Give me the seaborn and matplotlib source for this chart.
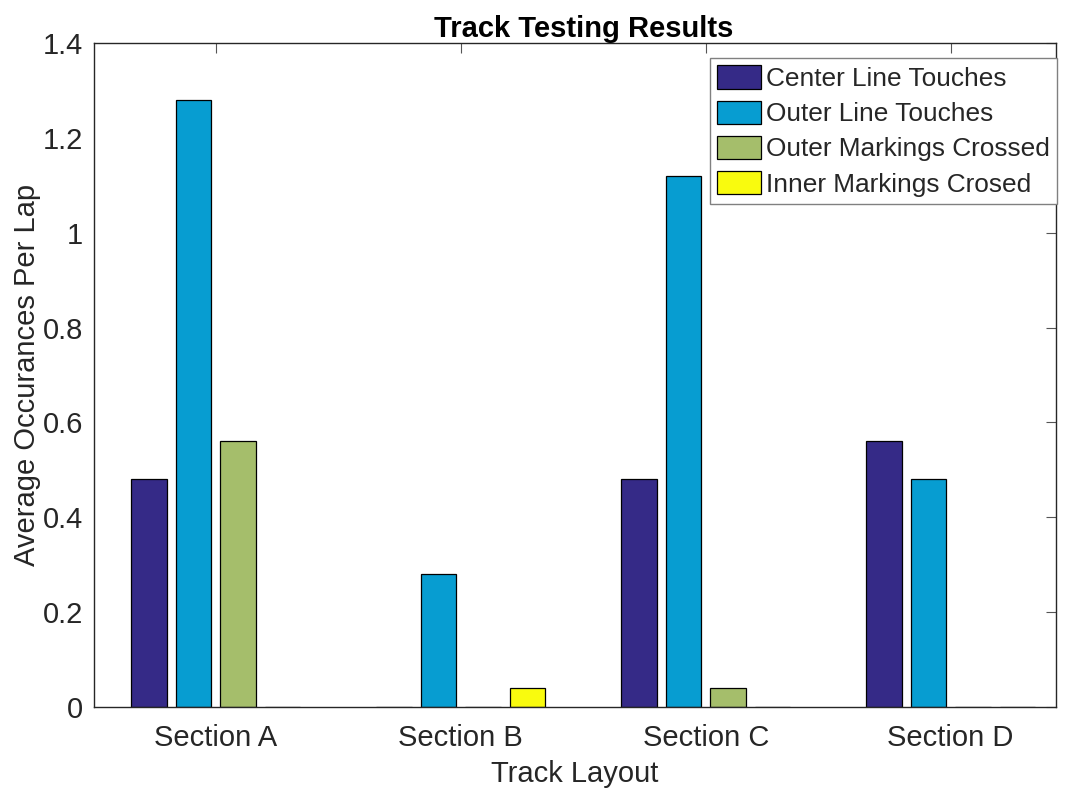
import matplotlib
matplotlib.use("Agg")
import matplotlib.pyplot as plt
import seaborn as sns
import pandas as pd

sections = ["Section A", "Section B", "Section C", "Section D"]
series_names = ["Center Line Touches", "Outer Line Touches",
                "Outer Markings Crossed", "Inner Markings Crosed"]
center_line = [0.48, 0.0, 0.48, 0.56]
outer_line = [1.28, 0.28, 1.12, 0.48]
outer_markings = [0.56, 0.0, 0.04, 0.0]
inner_markings = [0.0, 0.04, 0.0, 0.0]
colors = ["#352a87", "#079dd1", "#a5be6b", "#f9fb0e"]
yticks = [0, 0.2, 0.4, 0.6, 0.8, 1.0, 1.2, 1.4]
ytick_labels = ["0", "0.2", "0.4", "0.6", "0.8", "1", "1.2", "1.4"]

rows = []
for name, vals in zip(series_names, [center_line, outer_line, outer_markings, inner_markings]):
    for s, v in zip(sections, vals):
        rows.append({"Section": s, "Series": name, "Value": v})
df = pd.DataFrame(rows)

sns.set_style("white")
plt.rcParams["font.family"] = ["Liberation Sans", "DejaVu Sans"]

fig = plt.figure(figsize=(10.7, 7.92), dpi=100)
ax = fig.add_axes([94 / 1070, 1 - 707 / 792, (1056 - 94) / 1070, (707 - 43) / 792])

sns.barplot(data=df, x="Section", y="Value", hue="Series", order=sections,
            hue_order=series_names, palette=colors, width=0.727, gap=0.2,
            edgecolor="black", linewidth=0.9, saturation=1, errorbar=None, ax=ax)

ax.set_ylim(0, 1.4)
ax.set_xlim(-0.497, 3.43)
ax.set_yticks(yticks)
ax.set_yticklabels(ytick_labels)

tc = "#262626"
for sp in ax.spines.values():
    sp.set_color(tc)
    sp.set_linewidth(1.0)
    sp.set_visible(True)
ax.tick_params(axis="both", direction="in", length=7, width=0.8, color="#555555",
               labelsize=21, labelcolor=tc, top=True, right=True)
ax.tick_params(axis="y", pad=8)
ax.tick_params(axis="x", pad=12)

ax.set_xlabel("Track Layout", fontsize=21, color=tc, labelpad=6)
ax.set_ylabel("Average Occurances Per Lap", fontsize=21, color=tc, labelpad=1)
ax.set_title("Track Testing Results", fontsize=21, fontweight="bold", color="black",
             pad=4, x=0.509)

leg = ax.legend(loc="upper right", bbox_to_anchor=(1.0015, 0.977), borderaxespad=0,
                fontsize=18.9, frameon=True, fancybox=False, framealpha=1,
                edgecolor="#808080", handlelength=1.7, handleheight=1.0,
                handletextpad=0.2, labelspacing=0.36, borderpad=0.27, title=None)
leg.get_frame().set_linewidth(1.0)
for h in leg.get_patches():
    h.set_edgecolor("black")
    h.set_linewidth(0.9)

fig.savefig("out.png", dpi=100)
